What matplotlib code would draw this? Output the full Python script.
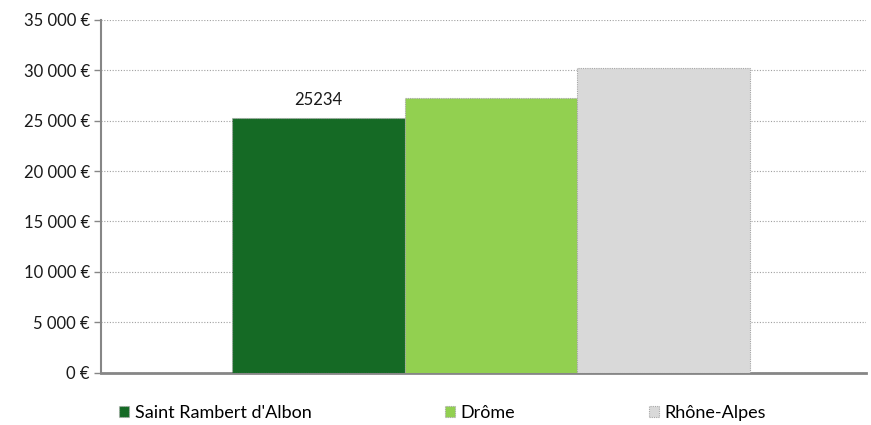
import matplotlib
matplotlib.use("Agg")
import matplotlib.pyplot as plt
from matplotlib.ticker import FuncFormatter

# Revenu médian comparé (en euros)
territoires = ["Saint Rambert d'Albon", "Drôme", "Rhône-Alpes"]
valeurs = [25234, 27300, 30200]
couleurs = ["#156A25", "#92D050", "#D9D9D9"]
etiquette_valeur = 25234

plt.rcParams["font.family"] = ["Lato", "DejaVu Sans"]

fig = plt.figure(figsize=(8.71, 4.25), dpi=100)
ax = fig.add_axes([101 / 871, 52.5 / 425, 765 / 871, 352.5 / 425])

for i, (nom, val, col) in enumerate(zip(territoires, valeurs, couleurs)):
    ax.bar(i, val, width=1.0, color=col, edgecolor="#A6A6A6",
           linewidth=0.8, linestyle=(0, (1, 1)), label=nom, zorder=3)

ax.text(0, etiquette_valeur + 1000, str(etiquette_valeur), ha="center",
        va="bottom", fontsize=12, color="#1a1a1a", zorder=4)

ax.set_xlim(-1.26, 3.175)
ax.set_ylim(0, 35000)
ax.set_yticks(range(0, 35001, 5000))
ax.yaxis.set_major_formatter(FuncFormatter(
    lambda v, _: f"{int(v):,}".replace(",", " ") + " €"))
ax.set_xticks([])

ax.yaxis.grid(True, linestyle=(0, (1, 1.5)), color="#A0A0A0",
              linewidth=0.8, zorder=0)
for s in ["top", "right"]:
    ax.spines[s].set_visible(False)
ax.spines["left"].set_color("#868686")
ax.spines["left"].set_linewidth(1.5)
ax.spines["bottom"].set_color("#868686")
ax.spines["bottom"].set_linewidth(2)
ax.tick_params(axis="y", length=5, width=1, color="#868686",
               labelsize=12, labelcolor="#1a1a1a", pad=3)

fig.legend(loc="center", bbox_to_anchor=(0.5 + 7 / 871, 12 / 425), ncol=3,
           frameon=False, fontsize=13, handlelength=0.55,
           handleheight=0.6, handletextpad=0.3, columnspacing=7.4)

fig.savefig("out.png", dpi=100)
